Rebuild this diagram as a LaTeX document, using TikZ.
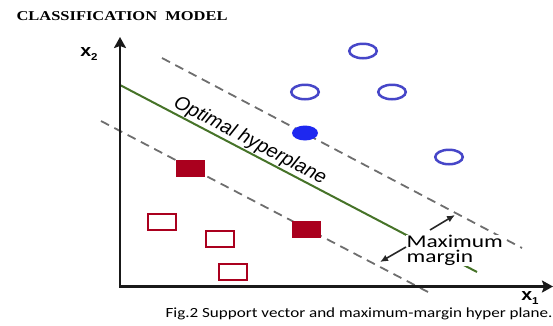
\documentclass[tikz,border=0pt]{standalone}
\usepackage{fontspec}
\usetikzlibrary{arrows.meta,shapes.geometric}
\newfontfamily\titlefont[FakeStretch=1.22]{Liberation Serif}
\newfontfamily\capfont[FakeStretch=1.22]{Carlito}
\newfontfamily\maxfont[FakeStretch=1.3]{Carlito}
\newfontfamily\optfont{Liberation Sans}
\newfontfamily\axfont[FakeStretch=1.15]{Liberation Sans}
\definecolor{ringblue}{RGB}{70,70,200}
\definecolor{dotblue}{RGB}{30,40,240}
\definecolor{sqred}{RGB}{170,0,30}
\definecolor{hypgreen}{RGB}{70,115,40}
\definecolor{dashgray}{RGB}{110,110,110}
\begin{document}
\begin{tikzpicture}[x=1pt,y=-1pt,
  openpt/.style={ellipse, draw=ringblue, line width=2.5pt, minimum width=27.5pt, minimum height=14.5pt, inner sep=0pt},
  filledpt/.style={ellipse, fill=dotblue, minimum width=26pt, minimum height=15pt, inner sep=0pt},
  opensq/.style={rectangle, draw=sqred, line width=2.8pt, fill=white, minimum width=28pt, minimum height=16pt, inner sep=0pt},
  filledsq/.style={rectangle, fill=sqred, minimum width=29pt, minimum height=17pt, inner sep=0pt},
  axisline/.style={line width=2.6pt, draw=black!90, -{Stealth[length=11pt,width=12pt,inset=2pt]}},
  marginline/.style={draw=dashgray, line width=1.8pt, dash pattern=on 9pt off 6pt},
  hyperline/.style={draw=hypgreen, line width=2pt},
  marginarrow/.style={draw=black!85, line width=1.6pt, -{Latex[length=8pt,width=7pt]}},
]
\useasboundingbox (0,0) rectangle (553,325);
% lines
\coordinate (g1) at (120,85); \coordinate (g2) at (477,272);
\coordinate (u1) at (162,58); \coordinate (u2) at (522,248);
\coordinate (l1) at (101,121); \coordinate (l2) at (428,292);
\draw[marginline] (u1) -- (u2);
\draw[marginline] (l1) -- (l2);
\draw[hyperline] (g1) -- (g2);
% axes
\coordinate (O) at (120,286.5);
\coordinate (Ytip) at (120,37);
\coordinate (Xtip) at (553,286.5);
\draw[axisline] (O) -- (Ytip);
\draw[axisline] (O) -- (Xtip);
\fill[black!90] (118.7,285.2) rectangle (121.3,287.8);
% points
\node[openpt] (b1) at (363,51) {};
\node[openpt] (b2) at (305,92) {};
\node[openpt] (b3) at (392,92) {};
\node[openpt] (b4) at (449,157) {};
\node[filledpt] (bf) at (305,133) {};
\node[filledsq] (rf1) at (190,168) {};
\node[filledsq] (rf2) at (306,229) {};
\node[opensq] (r1) at (162,222) {};
\node[opensq] (r2) at (220,239) {};
\node[opensq] (r3) at (233,272) {};
% texts
\node[anchor=base west, font=\fontsize{13.5}{16}\titlefont\bfseries] (title) at (13,20) {CLASSIFICATION\ \ MODEL};
\node[font=\fontsize{17}{18}\axfont\bfseries] (xtwo) at (89,54) {x\raisebox{-3.5pt}{\fontsize{10}{10}\selectfont 2}};
\node[font=\fontsize{17}{18}\axfont\bfseries] (xone) at (530,298) {x\raisebox{-3.5pt}{\fontsize{10}{10}\selectfont 1}};
\node[rotate=-27.6, font=\fontsize{19.5}{22}\optfont\itshape, inner sep=0pt] (opt) at (250,141) {Optimal hyperplane};
\node[anchor=north west, align=left, fill=white, inner sep=0.5pt, font=\fontsize{18}{15}\maxfont] (maxtext) at (406,234.5) {Maximum\\margin};
\node[anchor=base west, font=\fontsize{14}{16}\capfont] (caption) at (162,317) {Fig.2 Support vector and maximum-margin hyper plane.};
% margin arrows
\coordinate (ma1) at (430,230); \coordinate (ma1t) at (455,215);
\coordinate (ma2) at (406,247); \coordinate (ma2t) at (380,262);
\draw[marginarrow] (ma1) -- (ma1t);
\draw[marginarrow] (ma2) -- (ma2t);
\end{tikzpicture}
\end{document}
